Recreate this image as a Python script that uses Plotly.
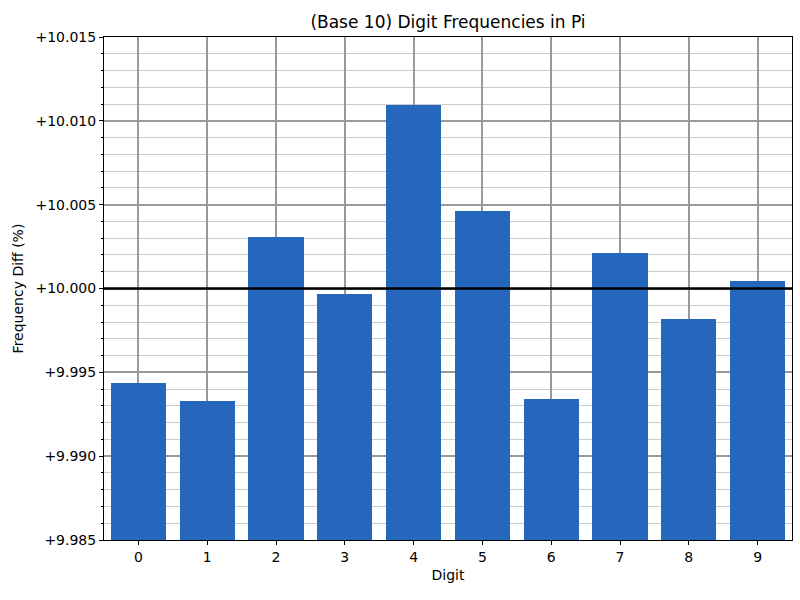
import plotly.graph_objects as go

digits = [0, 1, 2, 3, 4, 5, 6, 7, 8, 9]
freq = [9.99439, 9.99331, 10.00306, 9.99966, 10.01096, 10.00462, 9.9934, 10.0021, 9.99817, 10.00044]
reference = 10.0
y_range = [9.985, 10.015]
y_tickvals = [9.985, 9.990, 9.995, 10.000, 10.005, 10.010, 10.015]
y_ticktext = ["+9.985", "+9.990", "+9.995", "+10.000", "+10.005", "+10.010", "+10.015"]
x_ticktext = ["0", "1", "2", "3", "4", "5", "6", "7", "8", "9"]

FONT = "DejaVu Sans"

fig = go.Figure()
fig.add_trace(go.Bar(x=digits, y=freq, width=0.8, marker=dict(color="#2467bd", line=dict(width=0))))

fig.add_shape(type="line", xref="paper", x0=0, x1=1, yref="y", y0=reference, y1=reference,
              line=dict(color="black", width=2.5), layer="above")

fig.update_layout(
    width=800, height=600,
    margin=dict(l=104, r=8, t=37, b=60, autoexpand=False),
    paper_bgcolor="white", plot_bgcolor="white",
    font=dict(family=FONT, size=14, color="black"),
    title=dict(text="(Base 10) Digit Frequencies in Pi", x=0.5, xref="paper", xanchor="center",
               y=1 - 22 / 600, yanchor="middle", font=dict(size=17, family=FONT)),
    showlegend=False,
    bargap=0,
)
fig.update_xaxes(
    range=[-0.5, 9.5], tickmode="array", tickvals=digits, ticktext=x_ticktext,
    tickfont=dict(size=14, family=FONT),
    showgrid=True, gridcolor="#999999", gridwidth=1.5,
    showline=True, linecolor="black", linewidth=1, mirror=True,
    ticks="outside", ticklen=4, tickcolor="black", automargin=False,
    title=dict(text="Digit", standoff=6, font=dict(size=14, family=FONT)), zeroline=False,
)
fig.update_yaxes(
    range=y_range, tickmode="array", tickvals=y_tickvals, ticktext=y_ticktext,
    tickfont=dict(size=14, family=FONT),
    showgrid=True, gridcolor="#999999", gridwidth=1.5,
    showline=True, linecolor="black", linewidth=1, mirror=True,
    ticks="outside", ticklen=4, tickcolor="black", automargin=False,
    minor=dict(dtick=0.001, tick0=9.985, showgrid=True, gridcolor="#cccccc", gridwidth=1,
               ticks="outside", ticklen=2, tickcolor="black"),
    title=dict(text="Frequency Diff (%)", standoff=8, font=dict(size=14, family=FONT)), zeroline=False,
)

fig.write_html("out.html", config={"displayModeBar": False},
               post_script="document.body.style.margin='0';")
